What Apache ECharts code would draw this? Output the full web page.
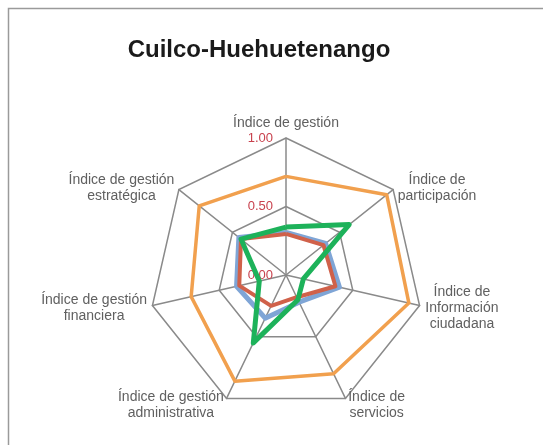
<!DOCTYPE html>
<html lang="es">
<head>
    <meta charset="UTF-8"/>
    <title>Cuilco-Huehuetenango</title>
    <script src="https://cdn.jsdelivr.net/npm/echarts@6/dist/echarts.min.js"></script>
    <style>
        html, body { margin: 0; padding: 0; background: #fff; }
    </style>
</head>
<body>
<div id="main" style="width: 543px;height:445px;"></div>

<script type="text/javascript">
    // ejes del radar (en orden de las agujas del reloj, empezando arriba)
    var indicadores = ['Índice de gestión', 'Índice de\nparticipación', 'Índice de\nInformación\nciudadana',
        'Índice de\nservicios', 'Índice de gestión\nadministrativa', 'Índice de gestión\nfinanciera',
        'Índice de gestión\nestratégica'];
    var serieAzul = [0.31, 0.37, 0.40, 0.22, 0.35, 0.37, 0.44];
    var serieRoja = [0.30, 0.35, 0.37, 0.18, 0.25, 0.35, 0.42];
    var serieNaranja = [0.72, 0.94, 0.92, 0.80, 0.86, 0.71, 0.81];
    var serieVerde = [0.35, 0.59, 0.13, 0.20, 0.55, 0.20, 0.42];
    var ticks = [0, 0.5, 1];

    // echarts recorre los ejes en sentido antihorario: se reordena
    function antihorario(arr) {
        return [arr[0]].concat(arr.slice(1).reverse());
    }

    var fuente = '14px "Liberation Sans"';
    var ctx = document.createElement('canvas').getContext('2d');
    ctx.font = fuente;

    // cada nombre con sus lineas centradas dentro del bloque
    var rich = {};
    var nombres = antihorario(indicadores);
    nombres.forEach(function (n, i) {
        var w = 0;
        n.split('\n').forEach(function (l) { w = Math.max(w, ctx.measureText(l).width); });
        rich['r' + i] = {width: Math.ceil(w) + 1, align: 'center', fontSize: 14,
            fontFamily: 'Liberation Sans', color: '#606060', lineHeight: 16};
    });

    var myChart = echarts.init(document.getElementById('main'));

    var indicator = nombres.map(function (n, i) {
        var o = {name: n, min: ticks[0], max: ticks[ticks.length - 1]};
        if (i === 0) {
            o.axisLabel = {
                show: true, color: '#C8424E', fontSize: 13, margin: 13,
                fontFamily: 'Liberation Sans', padding: [5, 0, 0, 0],
                formatter: function (v) { return v.toFixed(2); }
            };
        }
        return o;
    });

    function serie(nombre, datos, color, ancho, z) {
        return {
            name: nombre,
            type: 'radar',
            z: z,
            symbol: 'none',
            lineStyle: {color: color, width: ancho},
            itemStyle: {color: color},
            data: [{value: antihorario(datos), name: nombre}]
        };
    }

    var option = {
        animation: false,
        title: {
            text: 'Cuilco-Huehuetenango',
            left: 259,
            top: 33,
            textAlign: 'center',
            textStyle: {fontSize: 24, fontWeight: 'bold', color: '#1a1a1a', fontFamily: 'Liberation Sans'}
        },
        graphic: [{
            type: 'rect',
            shape: {x: 8.5, y: 8.5, width: 600, height: 500},
            style: {fill: 'none', stroke: '#9a9a9a', lineWidth: 1.5},
            silent: true
        }],
        radar: {
            center: [286, 275],
            radius: 137,
            startAngle: 90,
            shape: 'polygon',
            splitNumber: ticks.length - 1,
            nameGap: 5,
            axisName: {
                color: '#606060', fontSize: 14, fontFamily: 'Liberation Sans', lineHeight: 16,
                padding: [4, 0, 0, 0],
                rich: rich,
                formatter: function (name) {
                    var i = nombres.indexOf(name);
                    return name.split('\n').map(function (l) {
                        return '{r' + i + '|' + l + '}';
                    }).join('\n');
                }
            },
            axisLabel: {show: false},
            axisLine: {lineStyle: {color: '#8a8a8a', width: 1.5}},
            splitLine: {lineStyle: {color: '#8a8a8a', width: 1.5}},
            splitArea: {show: false},
            indicator: indicator
        },
        series: [
            serie('Serie 1', serieAzul, '#7FA5D6', 5, 2),
            serie('Serie 2', serieRoja, '#D0614A', 4, 3),
            serie('Serie 3', serieNaranja, '#F1A04E', 3.5, 4),
            serie('Serie 4', serieVerde, '#1DB25A', 5, 5)
        ]
    };
    // el titulo queda un poco a la izquierda del centro
    option.title.left = 254;
    myChart.setOption(option);
</script>
</body>
</html>
